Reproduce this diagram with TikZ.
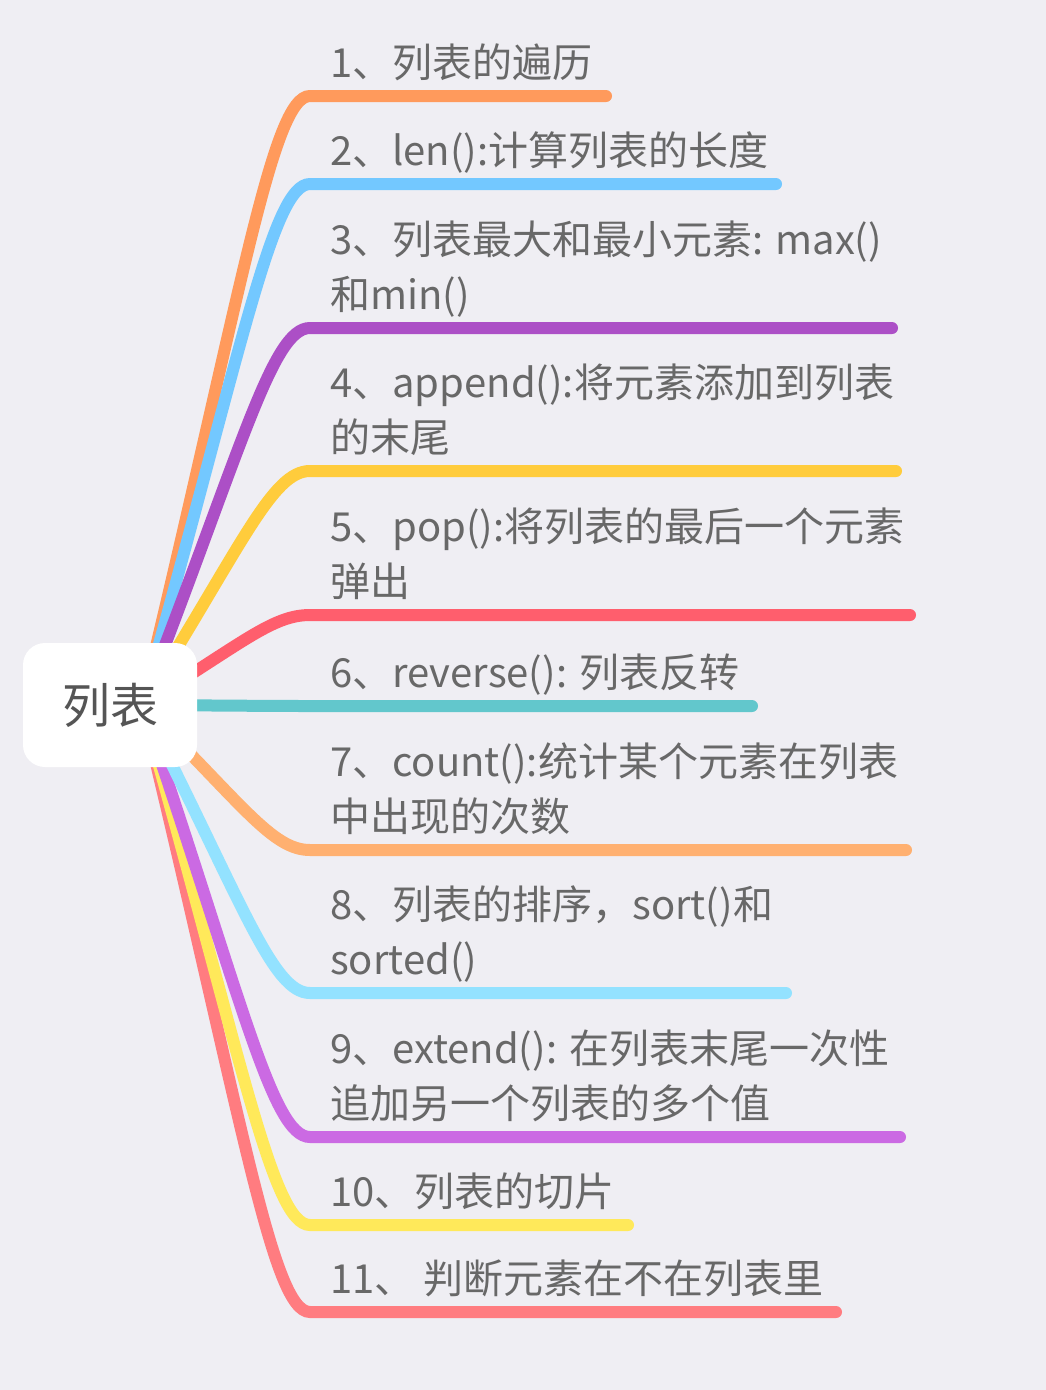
\documentclass[tikz,border=0pt]{standalone}
\usepackage{fontspec}
\setmainfont{Noto Sans CJK SC}
\definecolor{bgc}{HTML}{EFEEF3}
\definecolor{txtgray}{HTML}{686868}
\definecolor{rootgray}{HTML}{555555}
\definecolor{cA}{HTML}{FF9A5C}
\definecolor{cB}{HTML}{73C8FF}
\definecolor{cC}{HTML}{AC4FC6}
\definecolor{cD}{HTML}{FFCC3C}
\definecolor{cE}{HTML}{FF5E6D}
\definecolor{cF}{HTML}{62C7CC}
\definecolor{cG}{HTML}{FFB070}
\definecolor{cH}{HTML}{93E2FF}
\definecolor{cI}{HTML}{CB6AE3}
\definecolor{cJ}{HTML}{FFE95A}
\definecolor{cK}{HTML}{FF7C80}
\newcommand\mybranch[3]{%
  \coordinate (k#2) at (310,#2);
  \coordinate (e#2) at (#3,#2);
  \draw[branchline, #1] (S) .. controls (242,{705+0.68*(#2-705)}) and (272,#2) .. (k#2) -- (e#2);}
\begin{document}
\begin{tikzpicture}[x=1pt,y=-1pt,
  branchline/.style={line width=12pt, line cap=round},
  lbl/.style={anchor=base west, inner sep=0pt, text=txtgray, font=\fontsize{40}{55}\selectfont},
  rootbox/.style={fill=white, rounded corners=22pt, minimum width=174pt, minimum height=124pt, inner sep=0pt, text=rootgray, font=\fontsize{48}{48}\selectfont}]
\fill[bgc] (0,0) rectangle (1046,1390);
\useasboundingbox (0,0) rectangle (1046,1390);
\coordinate (S) at (142,705);
\mybranch{cA}{96}{606}
\mybranch{cB}{184}{776}
\mybranch{cC}{328}{892}
\mybranch{cD}{471}{896}
\mybranch{cE}{615}{910}
\mybranch{cK}{1312}{836}
\mybranch{cJ}{1225}{628}
\mybranch{cI}{1137}{900}
\mybranch{cH}{993}{786}
\mybranch{cG}{850}{906}
\mybranch{cF}{706}{752}
\node[rootbox] (root) at (110,705) {列表};
\node[lbl] (t1) at (330,77) {1、列表的遍历};
\node[lbl] (t2) at (330,165) {2、len():计算列表的长度};
\node[lbl] (t3) at (330,309) {\begin{tabular}[b]{@{}l@{}}3、列表最大和最小元素: max()\\和min()\end{tabular}};
\node[lbl] (t4) at (330,452) {\begin{tabular}[b]{@{}l@{}}4、append():将元素添加到列表\\的末尾\end{tabular}};
\node[lbl] (t5) at (330,596) {\begin{tabular}[b]{@{}l@{}}5、pop():将列表的最后一个元素\\弹出\end{tabular}};
\node[lbl] (t6) at (330,687) {6、reverse(): 列表反转};
\node[lbl] (t7) at (330,831) {\begin{tabular}[b]{@{}l@{}}7、count():统计某个元素在列表\\中出现的次数\end{tabular}};
\node[lbl] (t8) at (330,974) {\begin{tabular}[b]{@{}l@{}}8、列表的排序，sort()和\\sorted()\end{tabular}};
\node[lbl] (t9) at (330,1118) {\begin{tabular}[b]{@{}l@{}}9、extend(): 在列表末尾一次性\\追加另一个列表的多个值\end{tabular}};
\node[lbl] (t10) at (330,1206) {10、列表的切片};
\node[lbl] (t11) at (330,1293) {11、 判断元素在不在列表里};
\end{tikzpicture}
\end{document}
